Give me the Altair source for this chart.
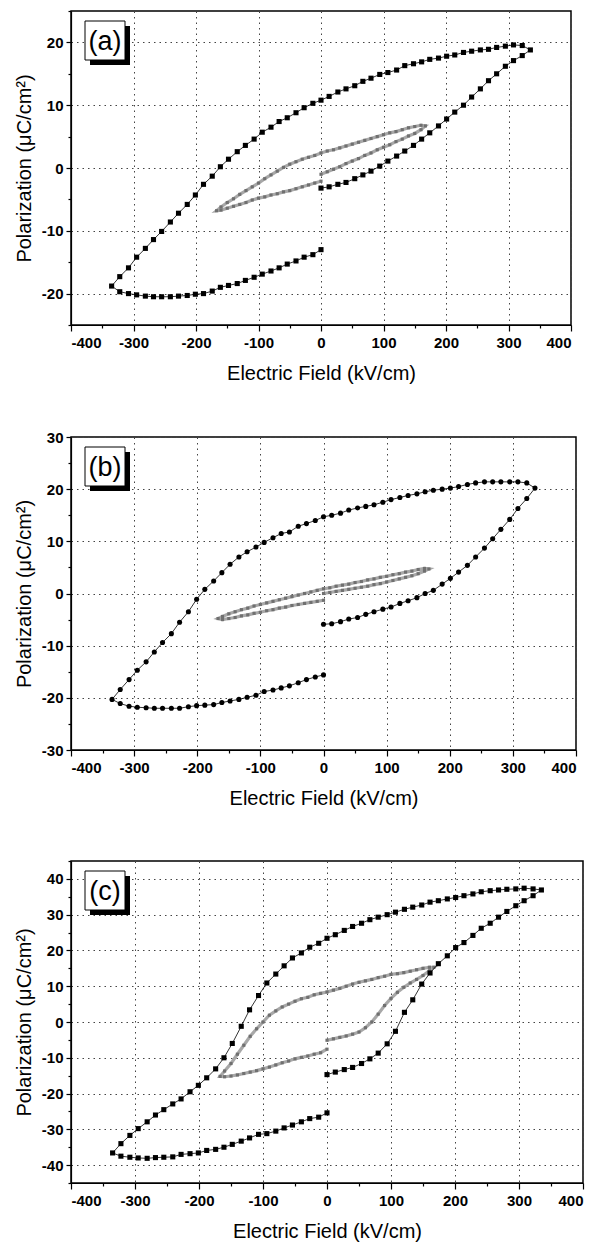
import altair as alt
import pandas as pd

# ---------------- data ----------------
panel_labels = ["(a)", "(b)", "(c)"]
x_title = "Electric Field (kV/cm)"
y_title = "Polarization (μC/cm²)"
x_ticks = [-400, -350, -300, -250, -200, -150, -100, -50, 0, 50, 100, 150, 200, 250, 300, 350, 400]

# panel (a)
a_out_E = [0, 13, 27, 40, 54, 67, 80, 94, 107, 121, 134, 148, 161, 174, 188, 201, 214, 228, 241, 255, 268, 281, 295, 308, 322, 335,
           322, 308, 295, 281, 268, 255, 241, 228, 214, 201, 188, 174, 161, 148, 134, 121, 107, 94, 80, 67, 54, 40, 27, 13,
           0, -13, -27, -40, -54, -67, -80, -94, -107, -121, -134, -148, -161, -174, -188, -201, -214, -228, -241, -255,
           -268, -281, -295, -308, -322, -335,
           -322, -308, -295, -281, -268, -255, -241, -228, -214, -201, -188, -174, -161, -148, -134, -121, -107, -94, -80, -67,
           -54, -40, -27, -13, 0]
a_out_P = [-3.2, -3.0, -2.6, -2.3, -1.7, -1.1, -0.5, 0.3, 1.1, 1.9, 2.7, 3.6, 4.6, 5.6, 6.7, 7.8, 8.9, 10.0, 11.3, 12.6, 13.9, 15.0, 16.2, 17.1, 17.9, 18.8,
           19.5, 19.6, 19.4, 19.2, 18.9, 18.8, 18.6, 18.4, 18.0, 17.8, 17.5, 17.3, 16.9, 16.6, 16.3, 15.6, 15.2, 14.9, 14.3, 13.8, 13.1, 12.6, 12.1, 11.4,
           10.8, 10.3, 9.6, 8.8, 8.0, 7.4, 6.5, 5.7, 4.6, 3.6, 2.6, 1.4, 0.2, -1.3, -2.6, -4.3, -5.8, -7.2, -8.6, -10.1,
           -11.4, -12.8, -14.2, -15.9, -17.3, -18.8,
           -19.7, -20.0, -20.2, -20.4, -20.5, -20.5, -20.5, -20.4, -20.3, -20.1, -20.0, -19.6, -19.0, -18.7, -18.4, -17.9, -17.4, -16.9, -16.4, -15.9,
           -15.3, -14.8, -14.2, -13.8, -13.0]
a_in_E = [0, 10, 20, 30, 40, 50, 60, 70, 80, 90, 100, 110, 120, 130, 140, 150, 160, 167,
          160, 150, 140, 130, 120, 110, 100, 90, 80, 70, 60, 50, 40, 30, 20, 10, 0, -10, -20, -30, -40, -50, -60, -70, -80, -90,
          -100, -110, -120, -130, -140, -150, -160, -167,
          -160, -150, -140, -130, -120, -110, -100, -90, -80, -70, -60, -50, -40, -30, -20, -10, 0]
a_in_P = [-1.0, -0.6, -0.2, 0.2, 0.7, 1.1, 1.5, 2.0, 2.4, 2.9, 3.3, 3.7, 4.2, 4.6, 5.1, 5.5, 6.1, 6.7,
          6.8, 6.6, 6.4, 6.1, 5.8, 5.6, 5.3, 5.0, 4.7, 4.4, 4.1, 3.8, 3.5, 3.2, 2.9, 2.7, 2.4, 2.0, 1.7, 1.4, 1.0, 0.6, 0.1, -0.5, -1.1, -1.7,
          -2.4, -3.0, -3.6, -4.2, -4.9, -5.5, -6.2, -6.8,
          -6.7, -6.4, -6.1, -5.8, -5.5, -5.1, -4.8, -4.6, -4.3, -4.1, -3.8, -3.6, -3.3, -3.0, -2.7, -2.4, -2.1]

# panel (b)
b_out_E = a_out_E
b_out_P = [-5.9, -5.8, -5.4, -4.9, -4.6, -4.0, -3.5, -3.0, -2.6, -1.9, -1.4, -0.8, 0.0, 0.6, 1.8, 2.9, 4.1, 5.4, 7.0, 8.7, 10.5, 12.3, 14.2, 16.3, 18.2, 20.2,
           21.2, 21.4, 21.4, 21.4, 21.4, 21.4, 21.2, 20.9, 20.5, 20.2, 20.0, 19.8, 19.5, 19.1, 18.8, 18.4, 18.0, 17.5, 17.0, 16.7, 16.4, 16.0, 15.4, 15.0,
           14.7, 14.0, 13.4, 12.9, 11.8, 11.5, 10.7, 9.8, 8.9, 8.0, 7.0, 5.6, 4.0, 2.4, 0.8, -1.1, -3.5, -5.5, -7.7, -9.4,
           -11.2, -13.1, -14.7, -16.5, -18.4, -20.3,
           -21.1, -21.6, -21.8, -21.9, -22.0, -22.0, -22.0, -22.0, -21.7, -21.5, -21.4, -21.3, -20.9, -20.6, -20.3, -19.9, -19.5, -18.8, -18.5, -18.1,
           -17.7, -17.1, -16.5, -16.0, -15.6]
b_in_E = a_in_E
b_in_P = [0.0, 0.2, 0.4, 0.6, 0.8, 1.0, 1.2, 1.4, 1.7, 1.9, 2.2, 2.5, 2.8, 3.1, 3.4, 3.8, 4.3, 4.7,
          4.8, 4.6, 4.3, 4.1, 3.8, 3.6, 3.3, 3.1, 2.8, 2.6, 2.3, 2.1, 1.8, 1.6, 1.4, 1.1, 0.9, 0.6, 0.3, 0.0, -0.3, -0.6, -0.9, -1.2, -1.5, -1.8,
          -2.1, -2.4, -2.8, -3.1, -3.5, -3.9, -4.4, -4.8,
          -5.0, -4.8, -4.6, -4.3, -4.1, -3.8, -3.6, -3.3, -3.1, -2.8, -2.6, -2.3, -2.1, -1.9, -1.7, -1.5, -1.3]

# panel (c)
c_out_E = a_out_E
c_out_P = [-14.7, -14.0, -13.3, -12.7, -11.6, -10.3, -8.7, -6.1, -2.6, 2.7, 6.2, 10.6, 13.7, 16.3, 18.5, 20.8, 22.2, 24.2, 26.2, 27.6, 29.3, 30.9, 32.5, 33.9, 35.3, 36.9,
           37.2, 37.4, 37.2, 37.1, 36.9, 36.7, 36.4, 35.8, 35.3, 34.8, 34.4, 33.9, 33.5, 32.7, 32.1, 31.5, 30.7, 30.0, 29.3, 28.6, 27.6, 26.7, 25.6, 24.4,
           23.4, 22.0, 20.9, 19.3, 17.9, 15.7, 13.4, 10.9, 7.4, 3.4, -1.2, -6.0, -10.0, -13.1, -15.6, -17.7, -19.5, -21.5, -22.9, -24.5,
           -26.0, -27.9, -29.8, -31.7, -34.0, -36.6,
           -37.5, -37.8, -38.0, -38.1, -37.9, -37.8, -37.7, -37.0, -36.8, -36.6, -35.9, -35.6, -35.0, -34.2, -33.3, -32.4, -31.4, -31.2, -30.5, -29.6,
           -28.8, -27.9, -27.0, -26.6, -25.4]
c_in_E = a_in_E
c_in_P = [-5.1, -4.7, -4.3, -3.9, -3.4, -2.8, -1.6, 0.0, 2.2, 4.6, 6.6, 8.3, 9.7, 10.9, 11.9, 13.0, 14.3, 15.3,
          15.3, 15.0, 14.6, 14.2, 13.8, 13.5, 13.3, 12.8, 12.4, 11.9, 11.5, 11.1, 10.6, 10.0, 9.4, 8.9, 8.4, 8.0, 7.6, 6.9, 6.5, 5.8, 5.0, 4.2, 3.1, 1.9,
          0.0, -1.9, -4.0, -6.5, -9.0, -11.6, -13.7, -15.2,
          -15.3, -15.1, -14.8, -14.4, -14.0, -13.6, -13.1, -12.6, -12.0, -11.4, -10.9, -10.3, -9.9, -9.5, -9.0, -8.6, -7.6]

FONT = "Liberation Sans"


def frame(E, P, series):
    return pd.DataFrame({"E": E, "P": P, "idx": list(range(len(E))), "series": series})


def panel(label, oE, oP, iE, iP, ymin, ymax, w, h, shape):
    df = pd.concat([frame(iE, iP, "inner"), frame(oE, oP, "outer")], ignore_index=True)
    y_ticks = list(range(ymin, ymax + 1, 5))
    common = dict(labelFont=FONT, labelFontSize=15, labelFontWeight=700, labelColor="black",
                  titleFont=FONT, titleFontSize=20, titleFontWeight="normal", titleColor="black")
    xax = alt.Axis(
        values=x_ticks, title=x_title,
        labelExpr="datum.value % 100 === 0 ? toString(datum.value) : ''",
        tickSize={"condition": {"test": "datum.value % 100 === 0", "value": 6}, "value": 3},
        gridOpacity={"condition": {"test": "datum.value % 100 === 0", "value": 1}, "value": 0},
        labelPadding=4, titlePadding=13, **common,
    )
    yax = alt.Axis(
        values=y_ticks, title=y_title,
        labelExpr="datum.value % 10 === 0 ? toString(datum.value) : ''",
        tickSize={"condition": {"test": "datum.value % 10 === 0", "value": 5}, "value": 3},
        gridOpacity={"condition": {"test": "datum.value % 10 === 0", "value": 1}, "value": 0},
        labelPadding=3, titlePadding=7, **common,
    )
    X = alt.X("E:Q", scale=alt.Scale(domain=[-400, 400], nice=False), axis=xax)
    Y = alt.Y("P:Q", scale=alt.Scale(domain=[ymin, ymax], nice=False), axis=yax)
    base = alt.Chart(df).encode(x=X, y=Y, order="idx:Q")
    inner = base.transform_filter("datum.series === 'inner'")
    outer = base.transform_filter("datum.series === 'outer'")
    l_in = inner.mark_line(color="#a8a8a8", strokeWidth=3.2)
    p_in = inner.mark_square(size=10, color="#707070", opacity=1)
    l_out = outer.mark_line(color="black", strokeWidth=0.8)
    if shape == "circle":
        p_out = outer.mark_circle(size=26, color="black", opacity=1)
    else:
        p_out = outer.mark_square(size=26, color="black", opacity=1)
    lab = alt.Data(values=[{"lbl": label}])
    shadow = alt.Chart(lab).mark_rect(color="black").encode(
        x=alt.value(19), x2=alt.value(59), y=alt.value(15), y2=alt.value(54))
    box = alt.Chart(lab).mark_rect(fill="white", stroke="black", strokeWidth=1).encode(
        x=alt.value(14), x2=alt.value(54), y=alt.value(10), y2=alt.value(49))
    txt = alt.Chart(lab).mark_text(font=FONT, fontSize=27, align="center", baseline="middle").encode(
        x=alt.value(34), y=alt.value(31), text="lbl:N")
    return alt.layer(l_in, p_in, l_out, p_out, shadow, box, txt).properties(width=w, height=h)


pa = panel(panel_labels[0], a_out_E, a_out_P, a_in_E, a_in_P, -25, 25, 500, 314, "square")
pb = panel(panel_labels[1], b_out_E, b_out_P, b_in_E, b_in_P, -30, 30, 505, 313, "circle")
pc = panel(panel_labels[2], c_out_E, c_out_P, c_in_E, c_in_P, -45, 45, 512, 322, "square")

chart = alt.vconcat(pa, alt.vconcat(pb, pc, spacing=50), spacing=45).properties(
    padding={"top": 1, "left": 5, "right": 5, "bottom": 5}
).configure_view(
    stroke="black", strokeWidth=1.5
).configure_axis(
    domainColor="black", domainWidth=1.2, tickColor="black", tickWidth=1.2,
    gridColor="#444444", gridDash=[1.5, 4], gridWidth=1,
)

chart.save("out.html", embed_options={"renderer": "svg", "actions": False})
